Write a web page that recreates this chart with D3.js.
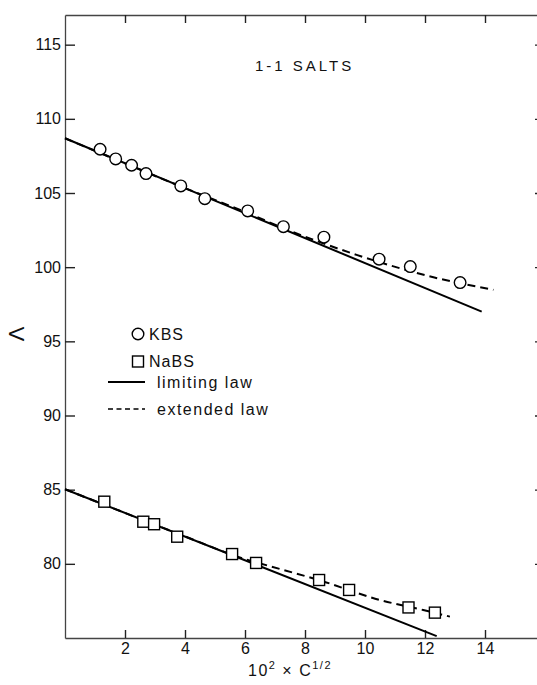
<!DOCTYPE html>
<html>
<head>
<meta charset="utf-8">
<script src="https://cdn.jsdelivr.net/npm/d3@7"></script>
<style>
  body { margin: 0; background: #fff; }
  text { font-family: "Liberation Sans", Arial, sans-serif; fill: #111; }
</style>
</head>
<body>
<svg id="chart" width="537" height="685"></svg>
<script>
// KBS data (circles)
const kbsX = [1.17, 1.69, 2.22, 2.70, 3.86, 4.66, 6.09, 7.28, 8.63, 10.47, 11.51, 13.17];
const kbsY = [107.95, 107.30, 106.87, 106.31, 105.48, 104.62, 103.79, 102.73, 102.02, 100.54, 100.04, 98.96];
// NaBS data (squares)
const nabsX = [1.31, 2.61, 2.97, 3.74, 5.57, 6.37, 8.47, 9.47, 11.45, 12.33];
const nabsY = [84.19, 82.84, 82.67, 81.83, 80.66, 80.06, 78.91, 78.24, 77.06, 76.71];

// limiting law lines (end points)
const kbsLimX = [0, 13.89];
const kbsLimY = [108.69, 97.0];
const nabsLimX = [0, 12.39];
const nabsLimY = [85.03, 75.13];

// extended law curves
const kbsExtX = [0, 4, 6, 7.5, 9.72, 12.28, 14.28];
const kbsExtY = [108.69, 105.33, 103.72, 102.45, 100.83, 99.32, 98.47];
const nabsExtX = [0, 4, 5.8, 7.17, 8.47, 10.5, 11.94, 12.83];
const nabsExtY = [85.03, 81.85, 80.45, 79.65, 78.9, 77.56, 76.89, 76.44];

const xTicks = [2, 4, 6, 8, 10, 12, 14, 16];
const xLabels = [2, 4, 6, 8, 10, 12, 14];
const yTicks = [80, 85, 90, 95, 100, 105, 110, 115];

const svg = d3.select('#chart');
const mLeft = 65, mTop = 15, mBottom = 638, mRight = 545;

const x = d3.scaleLinear().domain([0, 16]).range([mLeft, mRight]);
const y = d3.scaleLinear().domain([75, 117]).range([mBottom, mTop]);

const axisColor = '#444';

// axes
const gl = svg.append('g').attr('transform', 'translate(' + mLeft + ',0)')
  .call(d3.axisLeft(y).tickValues(yTicks).tickSizeInner(-10).tickSizeOuter(0).tickPadding(4));
const gr = svg.append('g').attr('transform', 'translate(' + mRight + ',0)')
  .call(d3.axisRight(y).tickValues(yTicks).tickSizeInner(-10).tickSizeOuter(0).tickFormat(''));
const gb = svg.append('g').attr('transform', 'translate(0,' + mBottom + ')')
  .call(d3.axisBottom(x).tickValues(xTicks).tickSizeInner(-8).tickSizeOuter(0).tickPadding(5)
    .tickFormat(function(d){ return xLabels.indexOf(d) >= 0 ? d : ''; }));
const gt = svg.append('g').attr('transform', 'translate(0,' + mTop + ')')
  .call(d3.axisTop(x).tickValues(xTicks).tickSizeInner(-8).tickSizeOuter(0).tickFormat(''));

[gl, gr, gb, gt].forEach(function(g){
  g.select('.domain').attr('stroke', axisColor).attr('stroke-width', 1.3);
  g.selectAll('.tick line').attr('stroke', '#222').attr('stroke-width', 1.4);
  g.selectAll('.tick text')
    .attr('fill', '#111')
    .style('font-size', '16px')
    .style('font-family', '"Liberation Sans", Arial, sans-serif');
});

// lines
const line = d3.line()
  .x(function(d){ return x(d[0]); })
  .y(function(d){ return y(d[1]); })
  .curve(d3.curveMonotoneX);

function pairs(xs, ys){ return xs.map(function(v, i){ return [v, ys[i]]; }); }

svg.append('path')
  .datum(pairs(kbsLimX, kbsLimY))
  .attr('d', line)
  .attr('fill', 'none').attr('stroke', '#000').attr('stroke-width', 2);
svg.append('path')
  .datum(pairs(nabsLimX, nabsLimY))
  .attr('d', line)
  .attr('fill', 'none').attr('stroke', '#000').attr('stroke-width', 2);

svg.append('path')
  .datum(pairs(kbsExtX, kbsExtY))
  .attr('d', line)
  .attr('fill', 'none').attr('stroke', '#000').attr('stroke-width', 2)
  .attr('stroke-dasharray', '8,5');
svg.append('path')
  .datum(pairs(nabsExtX, nabsExtY))
  .attr('d', line)
  .attr('fill', 'none').attr('stroke', '#000').attr('stroke-width', 2)
  .attr('stroke-dasharray', '8,5');

// markers
svg.selectAll('.kbs')
  .data(pairs(kbsX, kbsY))
  .enter().append('circle')
  .attr('class', 'kbs')
  .attr('cx', function(d){ return x(d[0]); })
  .attr('cy', function(d){ return y(d[1]); })
  .attr('r', 5.8)
  .attr('fill', '#fff').attr('stroke', '#000').attr('stroke-width', 1.4);

const sq = 11;
svg.selectAll('.nabs')
  .data(pairs(nabsX, nabsY))
  .enter().append('rect')
  .attr('class', 'nabs')
  .attr('x', function(d){ return x(d[0]) - sq / 2; })
  .attr('y', function(d){ return y(d[1]) - sq / 2; })
  .attr('width', sq).attr('height', sq)
  .attr('fill', '#fff').attr('stroke', '#000').attr('stroke-width', 1.4);

// title
svg.append('text')
  .attr('x', 255).attr('y', 71)
  .style('font-size', '15px')
  .style('letter-spacing', '3px')
  .text('1-1 SALTS');

// legend
const lg = svg.append('g');
lg.append('circle').attr('cx', 138).attr('cy', 334).attr('r', 5.8)
  .attr('fill', '#fff').attr('stroke', '#000').attr('stroke-width', 1.4);
lg.append('text').attr('x', 149).attr('y', 340).style('font-size', '16px')
  .style('letter-spacing', '1px').text('KBS');
lg.append('rect').attr('x', 132.5).attr('y', 356).attr('width', sq).attr('height', sq)
  .attr('fill', '#fff').attr('stroke', '#000').attr('stroke-width', 1.4);
lg.append('text').attr('x', 149).attr('y', 367).style('font-size', '16px')
  .style('letter-spacing', '1px').text('NaBS');
lg.append('line').attr('x1', 108).attr('x2', 145).attr('y1', 382).attr('y2', 382)
  .attr('stroke', '#000').attr('stroke-width', 2);
lg.append('text').attr('x', 157).attr('y', 388).style('font-size', '16px')
  .style('letter-spacing', '1.5px').text('limiting law');
lg.append('line').attr('x1', 108).attr('x2', 145).attr('y1', 409).attr('y2', 409)
  .attr('stroke', '#000').attr('stroke-width', 1.3).attr('stroke-dasharray', '5,3.5');
lg.append('text').attr('x', 157).attr('y', 415).style('font-size', '16px')
  .style('letter-spacing', '1.5px').text('extended law');

// axis labels
svg.append('text')
  .attr('transform', 'translate(24,334) rotate(-90)')
  .attr('text-anchor', 'middle')
  .style('font-size', '22px')
  .text('Λ');

const xl = svg.append('text')
  .attr('x', 248).attr('y', 676)
  .style('font-size', '16px')
  .style('letter-spacing', '1.5px');
xl.append('tspan').text('10');
xl.append('tspan').attr('dy', -7).style('font-size', '11px').text('2');
xl.append('tspan').attr('dy', 7).text(' × C');
xl.append('tspan').attr('dy', -7).style('font-size', '11px').text('1/2');
</script>
</body>
</html>
